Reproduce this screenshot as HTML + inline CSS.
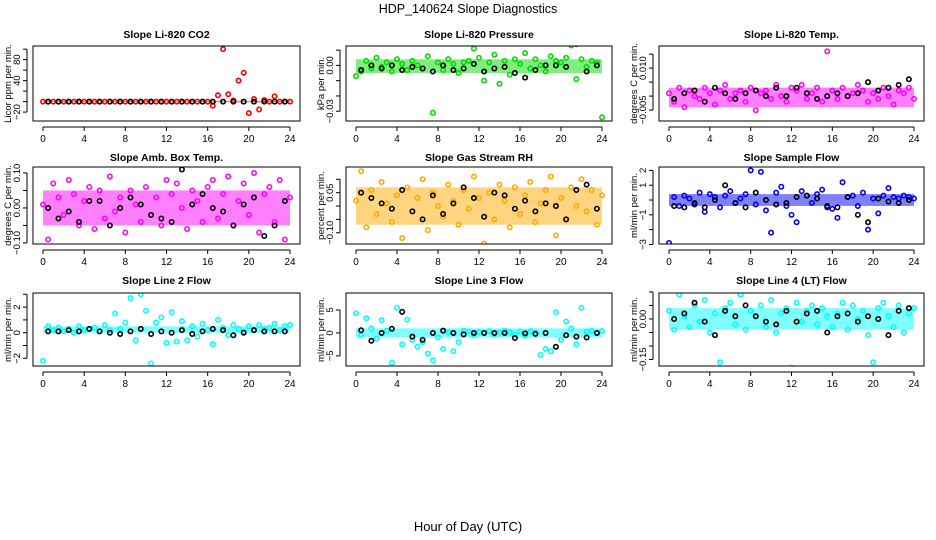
<!DOCTYPE html>
<html><head><meta charset="utf-8"><style>
body{margin:0;background:#fff}
svg{display:block;font-family:"Liberation Sans",sans-serif}
</style></head><body>
<svg id="c" width="936" height="540" viewBox="0 0 936 540">
<text x="468" y="13" text-anchor="middle" font-size="12.5">HDP_140624  Slope Diagnostics</text>
<text x="468" y="531" text-anchor="middle" font-size="13">Hour of Day (UTC)</text>
</svg>
<script>
const hours=[0,0.5,1,1.5,2,2.5,3,3.5,4,4.5,5,5.5,6,6.5,7,7.5,8,8.5,9,9.5,10,10.5,11,11.5,12,12.5,13,13.5,14,14.5,15,15.5,16,16.5,17,17.5,18,18.5,19,19.5,20,20.5,21,21.5,22,22.5,23,23.5,24];
const blackHours=[0.5,1.5,2.5,3.5,4.5,5.5,6.5,7.5,8.5,9.5,10.5,11.5,12.5,13.5,14.5,15.5,16.5,17.5,18.5,19.5,20.5,21.5,22.5,23.5];
const xTicks=[0,4,8,12,16,20,24];
const co2=[0,0,0,0,0,0,0,0,0,0,0,0,0,0,0,0,0,0,0,0,0,0,0,0,0,0,0,0,0,0,0,0,0,-8,12,100,14,2,40,55,-22,5,-15,3,0,10,0,0,0];
const co2Black=[0,0,0,0,0,0,0,0,0,0,0,0,0,0,0,0,0,0,0,0,0,0,0,0];
const pres=[-0.007,-0.004,0.003,-0.002,0.005,-0.001,0.002,-0.004,0.004,0.001,-0.003,0.003,0.0,-0.002,0.006,-0.031,0.002,-0.003,0.004,0.001,-0.005,0.002,0.003,0.011,0.005,-0.010,0.002,0.007,-0.012,0.003,-0.006,0.004,0.001,0.008,-0.002,0.004,0.0,-0.004,0.006,0.003,0.002,0.005,0.013,-0.009,0.004,-0.001,0.003,0.002,-0.034];
const presBlack=[-0.003,0.0,-0.002,0.0,-0.003,-0.001,-0.002,-0.004,0.0,-0.003,-0.002,0.001,-0.004,-0.002,-0.001,-0.005,-0.008,-0.003,0.0,0.0,-0.001,0.014,-0.004,0.0];
const temp=[0.001,-0.002,0.003,-0.004,0.002,0.0,-0.001,0.003,0.001,-0.003,0.002,0.004,-0.001,0.001,0.002,-0.002,0.003,-0.005,0.001,0.002,-0.001,0.004,0.0,-0.002,0.003,0.002,0.004,-0.001,0.001,0.003,-0.002,0.016,0.002,-0.001,0.003,0.0,0.001,0.004,0.002,-0.002,0.001,-0.001,0.003,0.0,-0.003,0.002,0.001,0.003,-0.001];
const tempBlack=[-0.001,0.001,0.002,-0.002,0.003,0.001,-0.001,0.001,0.002,0.0,0.003,0.0,0.003,0.001,-0.001,0.0,0.001,0.0,0.001,0.005,0.002,0.003,0.004,0.006];
const amb=[0.01,-0.09,0.07,0.03,-0.02,0.08,0.04,-0.05,0.02,0.06,-0.06,0.05,-0.03,0.09,-0.01,0.03,-0.07,0.05,0.01,-0.04,0.06,-0.02,0.03,-0.05,0.08,0.04,0.07,0.0,-0.06,0.05,0.02,-0.04,0.06,0.08,-0.03,0.04,0.09,-0.05,0.02,0.07,-0.02,0.10,-0.07,0.04,0.06,-0.04,0.08,-0.09,0.03];
const ambBlack=[0.0,-0.03,-0.01,-0.04,0.02,0.02,-0.05,0.0,0.03,0.01,-0.02,-0.03,-0.04,0.11,0.01,0.04,0.0,-0.01,-0.05,0.01,0.03,-0.08,-0.05,0.02];
const rh=[0.02,0.13,-0.08,0.06,-0.03,0.09,0.01,-0.06,0.04,-0.12,0.07,-0.02,0.03,0.10,-0.09,0.05,0.0,-0.04,0.08,0.02,-0.07,0.06,-0.01,0.11,0.03,-0.14,0.05,-0.05,0.08,0.02,-0.08,0.07,-0.03,0.04,0.09,-0.06,0.01,0.06,0.11,-0.11,0.03,-0.05,0.07,0.0,0.10,-0.02,0.06,-0.07,0.04];
const rhBlack=[0.05,0.03,0.01,-0.01,0.06,-0.02,-0.05,0.04,-0.03,0.01,0.07,0.03,-0.04,0.05,0.04,-0.01,0.02,-0.02,0.01,0.0,-0.05,0.06,0.08,-0.01];
const sflow=[-2.9,0.2,-0.4,0.3,0.1,-0.3,0.5,-0.8,0.4,0.2,-0.5,0.3,0.6,-0.2,0.1,0.4,2.0,-0.3,1.9,-0.7,-2.2,0.5,0.9,-0.4,-1.0,-1.5,0.6,0.3,-0.2,0.4,0.7,-0.5,-0.6,-1.2,1.2,0.2,0.3,-0.4,0.5,-2.0,0.1,-0.9,0.3,0.8,0.2,0.1,0.3,0.2,0.1];
const sflowBlack=[-0.4,-0.5,-0.2,-0.5,0.0,1.0,-0.2,-0.5,0.5,0.0,-0.3,-0.2,0.2,0.3,0.1,-0.4,-0.5,0.2,-1.0,-1.5,0.1,-0.1,-0.2,0.0];
const line2=[-2.2,0.5,0.2,0.4,0.1,0.3,0.0,0.5,0.2,0.3,0.4,0.1,0.6,0.2,1.5,0.3,0.8,2.7,-0.6,3.0,1.7,-2.4,0.8,1.2,-0.8,1.6,-0.7,0.9,-0.6,0.5,-0.3,0.7,0.2,-0.9,1.0,0.4,-0.2,0.6,0.3,0.1,0.5,0.2,0.6,0.3,0.4,0.7,0.2,0.5,0.6];
const line2Black=[0.1,0.1,0.2,0.1,0.3,0.1,0.0,-0.1,0.1,0.3,-0.1,0.1,0.0,0.2,-0.1,0.1,0.3,0.2,-0.2,0.0,0.2,0.1,0.1,0.1];
const line3=[4.3,-0.5,3.2,1.0,-1.2,2.8,0.5,-6.5,5.5,-2.5,2.9,-1.5,-3.0,-2.0,-4.5,-6.0,-1.0,-3.5,0.2,-4.0,-2.0,0.5,0.3,-0.5,0.2,0.0,0.4,-0.3,0.1,0.5,0.2,-0.4,0.3,-0.6,0.4,0.1,-4.8,-3.5,-4.0,4.5,-1.5,2.5,1.0,-2.5,5.5,0.3,0.5,0.0,0.4];
const line3Black=[0.6,-1.7,0.0,0.9,4.6,-0.8,-1.5,0.0,0.5,0.0,-0.3,0.0,0.0,0.0,0.0,-1.1,-0.1,-0.2,0.0,-3.0,-0.5,-0.8,-1.0,0.0];
const line4=[0.03,-0.04,0.09,0.01,-0.03,0.05,-0.01,0.07,-0.05,0.02,-0.16,0.04,0.06,-0.02,0.09,-0.04,0.03,0.01,0.05,-0.03,0.07,-0.05,0.02,0.04,-0.18,0.06,-0.01,0.03,0.05,-0.02,0.04,0.01,-0.03,0.02,0.06,-0.04,0.05,0.0,0.03,-0.06,-0.16,0.04,0.06,0.01,-0.03,0.05,-0.05,0.02,0.04];
const line4Black=[0.0,0.02,0.06,-0.01,-0.06,0.03,0.01,0.05,0.01,-0.01,-0.02,0.03,-0.01,0.02,0.03,-0.05,0.01,0.02,-0.01,0.01,0.0,-0.06,0.03,0.04];
const coreCo2=[-1.5,1.5];
const corePres=[-0.005,0.004];
const coreTemp=[-0.004,0.003];
const coreAmb=[-0.05,0.05];
const coreRh=[-0.07,0.07];
const coreSflow=[-0.4,0.4];
const coreLine2=[0.0,0.5];
const coreLine3=[-1.0,1.0];
const coreLine4=[-0.04,0.04];

const NS="http://www.w3.org/2000/svg",svg=document.getElementById('c');
function mk(tag,attrs,parent){const e=document.createElementNS(NS,tag);for(const k in attrs)e.setAttribute(k,attrs[k]);(parent||svg).appendChild(e);return e;}
const cols=[[33,300],[346,612],[659,924]];
const rows=[{t:46,b:121,title:34},{t:167,b:244,title:157},{t:293,b:366,title:280}];
const panels=[
 [0,0,'co2','Slope Li-820 CO2','Licor ppm per min.',-37,106,[-20,0,20,40,60,80,100],[-20,40,80],'#ff0000',co2,co2Black,coreCo2],
 [1,0,'pressure','Slope Li-820 Pressure','kPa per min.',-0.0364,0.0127,[-0.03,-0.02,-0.01,0,0.01],[-0.03,0],'#00dd00',pres,presBlack,corePres],
 [2,0,'li820-temp','Slope Li-820 Temp.','degrees C per min.',-0.0089,0.0179,[-0.005,0,0.005,0.01,0.015],[-0.005,0.01],'#ff00ff',temp,tempBlack,coreTemp],
 [0,1,'amb-box-temp','Slope Amb. Box Temp.','degrees C per min.',-0.103,0.117,[-0.1,-0.05,0,0.05,0.1],[-0.1,0,0.1],'#ff00ff',amb,ambBlack,coreAmb],
 [1,1,'gas-stream-rh','Slope Gas Stream RH','percent per min.',-0.142,0.146,[-0.1,-0.05,0,0.05,0.1],[-0.1,0.05],'#ffaa00',rh,rhBlack,coreRh],
 [2,1,'sample-flow','Slope Sample Flow','ml/min per min.',-2.97,2.23,[-3,-2,-1,0,1,2],[-3,-1,1,2],'#0000ff',sflow,sflowBlack,coreSflow],
 [0,2,'line2-flow','Slope Line 2 Flow','ml/min per min.',-2.6,3.1,[-2,-1,0,1,2,3],[-2,0,2],'#00ffff',line2,line2Black,coreLine2],
 [1,2,'line3-flow','Slope Line 3 Flow','ml/min per min.',-7.2,8.7,[-5,0,5],[-5,0,5],'#00ffff',line3,line3Black,coreLine3],
 [2,2,'line4-flow','Slope Line 4 (LT) Flow','ml/min per min.',-0.174,0.096,[-0.15,-0.1,-0.05,0,0.05,0.1],[-0.15,0],'#00ffff',line4,line4Black,coreLine4]
];
function fmt(v,ticks){const d=Math.max(...ticks.map(t=>{const s=String(t);return s.includes('.')?s.split('.')[1].length:0;}));return (v<0?'\u2212':'')+Math.abs(v).toFixed(d);}
panels.forEach(p=>{
 const [ci,ri,name,title,ylab,ymin,ymax,ticks,labels,color,data,black,core]=p;
 const [x1,x2]=cols[ci],r=rows[ri];
 const g=mk('g',{});
 
 
 const xs=v=>x1+10+v*(x2-x1-20)/24;
 const ys=v=>r.b-(v-ymin)/(ymax-ymin)*(r.b-r.t);
 const tt=mk('text',{x:(x1+x2)/2,y:r.title+4,'text-anchor':'middle','font-size':10.5,'font-weight':'bold'},g);tt.textContent=title;
 
 
 const clip=mk('clipPath',{id:'cl'+name},g);mk('rect',{x:x1,y:r.t,width:x2-x1,height:r.b-r.t},clip);
 const pts=mk('g',{'clip-path':'url(#cl'+name+')'},g);
 const band=mk('rect',{x:xs(0),y:ys(core[1]),width:xs(24)-xs(0),height:ys(core[0])-ys(core[1]),fill:color,opacity:0.5},pts);
 
 
 data.forEach((v,i)=>{const c=mk('circle',{cx:xs(hours[i]),cy:ys(v),r:2.2,fill:'none',stroke:color,'stroke-width':1.6},pts);
  
  });
 black.forEach((v,i)=>{const c=mk('circle',{cx:xs(blackHours[i]),cy:ys(v),r:2.2,fill:'none',stroke:'#000','stroke-width':1.6},pts);
  
  });
 mk('rect',{x:x1,y:r.t,width:x2-x1,height:r.b-r.t,fill:'none',stroke:'#000','stroke-width':1},g);
 const ax=x1+10,bx=x2-10,yb=r.b+6;
 mk('line',{x1:ax,x2:bx,y1:yb,y2:yb,stroke:'#000'},g);
 xTicks.forEach(t=>{mk('line',{x1:xs(t),x2:xs(t),y1:yb,y2:yb+4,stroke:'#000'},g);
  const l=mk('text',{x:xs(t),y:yb+15,'text-anchor':'middle','font-size':10},g);l.textContent=t;
  
  });
 const xa=x1-6;
 mk('line',{x1:xa,x2:xa,y1:ys(ticks[0]),y2:ys(ticks[ticks.length-1]),stroke:'#000'},g);
 ticks.forEach(t=>mk('line',{x1:xa-4,x2:xa,y1:ys(t),y2:ys(t),stroke:'#000'},g));
 labels.forEach(t=>{const l=mk('text',{x:0,y:0,'text-anchor':'middle','font-size':9.5,transform:`translate(${xa-7},${ys(t)}) rotate(-90)`},g);l.textContent=fmt(t,ticks);
  
  });
 const yl=mk('text',{x:0,y:0,'text-anchor':'middle','font-size':9.5,transform:`translate(${x1-22},${(r.t+r.b)/2}) rotate(-90)`},g);yl.textContent=ylab;
 
 
});
</script>
</body></html>
